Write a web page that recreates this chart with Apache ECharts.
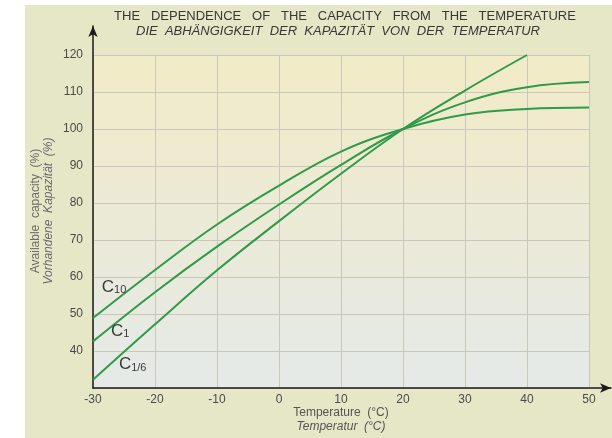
<!DOCTYPE html>
<html>
<head>
<meta charset="utf-8">
<script src="https://cdn.jsdelivr.net/npm/echarts@6/dist/echarts.min.js"></script>
<style>
html,body{margin:0;padding:0;background:#ffffff;}
#chart{width:612px;height:438px;}
</style>
</head>
<body>
<div id="chart"></div>
<script>
// ---- data ----
const temps = [-30, -20, -10, 0, 10, 20, 30, 40, 50];
const xTicks = [-30, -20, -10, 0, 10, 20, 30, 40, 50];
const yTicks = [40, 50, 60, 70, 80, 90, 100, 110, 120];
const c10 = [48.9, 61.9, 74.2, 84.7, 93.9, 100.0, 103.9, 105.4, 105.8];
const c1 = [42.6, 55.9, 68.2, 79.6, 90.3, 100.0, 107.2, 111.3, 112.7];
const c16 = [32.2, 47.2, 61.8, 75.1, 87.9, 100.0, 110.4, 120.0, null];
const seriesNames = ['C10', 'C1', 'C1/6'];
const titleLine1 = 'THE   DEPENDENCE   OF   THE   CAPACITY   FROM   THE   TEMPERATURE';
const titleLine2 = 'DIE  ABHÄNGIGKEIT  DER  KAPAZITÄT  VON  DER  TEMPERATUR';

const pairs = arr => temps.map((t, i) => [t, arr[i]]).filter(p => p[1] !== null);

const FONT = '"Liberation Sans", Arial, Helvetica, sans-serif';
const GREEN = '#2f9a47';
const chart = echarts.init(document.getElementById('chart'), null, {renderer: 'canvas'});

const subRich = {
  c: {fontSize: 17, lineHeight: 17, verticalAlign: 'top', color: '#3a3a3a', fontFamily: FONT},
  s: {fontSize: 11, lineHeight: 11, padding: [6, 0, 0, 0], verticalAlign: 'top', color: '#3a3a3a', fontFamily: FONT}
};
function curveLabel(sub, coord) {
  return {
    symbol: 'circle', symbolSize: 0, silent: true,
    label: {show: true, position: 'inside', formatter: '{c|C}{s|' + sub + '}', rich: subRich},
    data: [{coord: coord, value: 0}]
  };
}

function lineSeries(name, arr, labelSub, labelCoord) {
  return {
    name: name, type: 'line', xAxisIndex: 0, yAxisIndex: 0,
    data: pairs(arr), smooth: 0.4,
    showSymbol: false, symbol: 'none',
    lineStyle: {color: GREEN, width: 2},
    markPoint: curveLabel(labelSub, labelCoord),
    z: 3
  };
}

const option = {
  animation: false,
  backgroundColor: '#ffffff',
  graphic: [
    {type: 'rect', z: -10, shape: {x: 25, y: 5, width: 587, height: 433}, style: {fill: '#e5e7c7'}},
    {type: 'text', x: 341, y: 413, style: {text: 'Temperature  (°C)', font: '12px ' + FONT, fill: '#555', textAlign: 'center', textVerticalAlign: 'middle'}},
    {type: 'text', x: 341, y: 427, style: {text: 'Temperatur  (°C)', font: 'italic 12px ' + FONT, fill: '#555', textAlign: 'center', textVerticalAlign: 'middle'}},
    {type: 'text', x: 36, y: 211, rotation: Math.PI / 2, style: {text: 'Available  capacity  (%)', font: '12px ' + FONT, fill: '#6a6a6a', textAlign: 'center', textVerticalAlign: 'middle'}},
    {type: 'text', x: 49, y: 211, rotation: Math.PI / 2, style: {text: 'Vorhandene  Kapazität  (%)', font: 'italic 12px ' + FONT, fill: '#6a6a6a', textAlign: 'center', textVerticalAlign: 'middle'}}
  ],
  title: [
    {text: titleLine1, left: 345, top: 10, textAlign: 'center', padding: 0,
     textStyle: {fontSize: 13, fontWeight: 'normal', color: '#383838', fontFamily: FONT}},
    {text: titleLine2, left: 338, top: 25, textAlign: 'center', padding: 0,
     textStyle: {fontSize: 13, fontWeight: 'normal', fontStyle: 'italic', color: '#383838', fontFamily: FONT}}
  ],
  grid: [
    {left: 93, top: 55, right: 23, bottom: 50, show: true, borderWidth: 0,
     backgroundColor: new echarts.graphic.LinearGradient(0, 0, 0, 1, [
       {offset: 0, color: '#f2ebc6'}, {offset: 1, color: '#e5eae8'}
     ])},
    {left: 93, top: 26, right: 1, bottom: 50, show: false}
  ],
  xAxis: [
    {type: 'value', gridIndex: 0, min: -30, max: 50, interval: 10,
     axisLine: {show: false}, axisTick: {show: false},
     axisLabel: {color: '#4a4a4a', fontSize: 12, fontFamily: FONT, margin: 6,
                 customValues: xTicks, formatter: v => String(v)},
     splitLine: {show: true, lineStyle: {color: '#c9c8bb', width: 1}}},
    {type: 'value', gridIndex: 1, min: 0, max: 1,
     axisLine: {show: true, onZero: false, symbol: ['none', 'arrow'], symbolSize: [7, 11], lineStyle: {color: '#1a1a1a', width: 1.5}},
     axisTick: {show: false}, axisLabel: {show: false}, splitLine: {show: false}}
  ],
  yAxis: [
    {type: 'value', gridIndex: 0, min: 30, max: 120, interval: 10,
     axisLine: {show: false}, axisTick: {show: false},
     axisLabel: {color: '#4a4a4a', fontSize: 12, fontFamily: FONT, margin: 10,
                 formatter: v => (yTicks.indexOf(v) >= 0 ? String(v) : '')},
     splitLine: {show: true, lineStyle: {color: '#c9c8bb', width: 1}}},
    {type: 'value', gridIndex: 1, min: 0, max: 1,
     axisLine: {show: true, onZero: false, symbol: ['none', 'arrow'], symbolSize: [7, 11], lineStyle: {color: '#1a1a1a', width: 1.5}},
     axisTick: {show: false}, axisLabel: {show: false}, splitLine: {show: false}}
  ],
  series: [
    lineSeries(seriesNames[0], c10, '10', [-26.6, 57.2]),
    lineSeries(seriesNames[1], c1, '1', [-25.6, 45.3]),
    lineSeries(seriesNames[2], c16, '1/6', [-23.6, 36.3])
  ]
};
chart.setOption(option);
</script>
</body>
</html>
